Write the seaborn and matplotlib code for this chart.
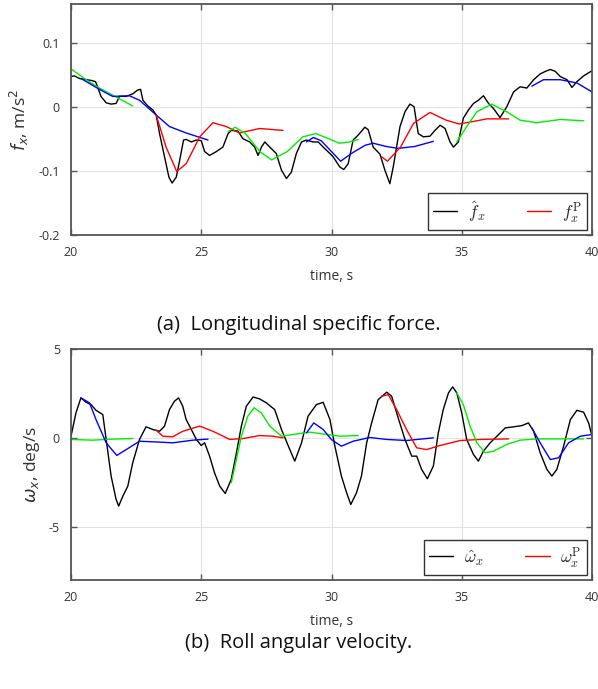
import numpy as np
import pandas as pd
import matplotlib
matplotlib.use("Agg")
import matplotlib.pyplot as plt
import seaborn as sns
from matplotlib.lines import Line2D
from matplotlib.font_manager import FontProperties

# ---- data ----
# (a) longitudinal specific force, m/s^2
fx_t = [20.0, 20.13, 20.32, 20.58, 20.77, 20.94, 21.03, 21.15, 21.35, 21.54, 21.73, 21.86,
        22.12, 22.37, 22.56, 22.67, 22.76, 22.95, 23.14, 23.27, 23.40, 23.59, 23.76, 23.88,
        24.04, 24.17, 24.32, 24.42, 24.62, 24.81, 25.0, 25.13, 25.32, 25.58, 25.83, 26.03,
        26.15, 26.41, 26.6, 26.86, 27.05, 27.18, 27.31, 27.44, 27.63, 27.88, 28.08, 28.27,
        28.46, 28.65, 28.85, 29.04, 29.29, 29.49, 29.68, 29.94, 30.06, 30.32, 30.47, 30.64,
        30.83, 31.03, 31.28, 31.41, 31.6, 31.86, 32.05, 32.24, 32.37, 32.63, 32.82, 33.01,
        33.17, 33.33, 33.53, 33.78, 33.97, 34.17, 34.36, 34.55, 34.68, 34.87, 35.06, 35.26,
        35.45, 35.64, 35.83, 36.03, 36.22, 36.47, 36.73, 36.99, 37.24, 37.5, 37.76, 38.01,
        38.21, 38.4, 38.59, 38.78, 39.04, 39.23, 39.42, 39.68, 40.0]
fx_meas = [0.047, 0.048, 0.044, 0.042, 0.041, 0.039, 0.030, 0.016, 0.006, 0.004, 0.005, 0.016,
           0.016, 0.020, 0.026, 0.027, 0.010, 0.001, -0.005, -0.013, -0.042, -0.078, -0.110, -0.119,
           -0.110, -0.084, -0.052, -0.051, -0.055, -0.052, -0.053, -0.070, -0.076, -0.070, -0.063, -0.042,
           -0.037, -0.038, -0.050, -0.055, -0.063, -0.076, -0.063, -0.055, -0.063, -0.073, -0.099, -0.112,
           -0.102, -0.073, -0.055, -0.052, -0.055, -0.055, -0.063, -0.073, -0.078, -0.094, -0.098, -0.089,
           -0.052, -0.044, -0.032, -0.036, -0.063, -0.074, -0.099, -0.120, -0.094, -0.031, -0.008, 0.004,
           0.0, -0.042, -0.047, -0.046, -0.037, -0.029, -0.034, -0.055, -0.063, -0.055, -0.018, -0.005,
           0.005, 0.010, 0.017, 0.005, -0.003, -0.017, 0.0, 0.023, 0.031, 0.029, 0.042, 0.051,
           0.055, 0.058, 0.055, 0.047, 0.042, 0.030, 0.039, 0.048, 0.056]

# prediction segments (time, value, colour)
fx_pred = [
    ([20.0, 20.58, 21.09, 21.6, 22.37], [0.059, 0.042, 0.029, 0.018, 0.001], "g"),
    ([20.38, 21.09, 21.6, 22.24, 22.63, 23.27, 23.78, 24.42, 25.26],
     [0.044, 0.027, 0.016, 0.017, 0.010, -0.013, -0.031, -0.041, -0.052], "b"),
    ([23.27, 23.65, 24.06, 24.42, 24.94, 25.45, 25.96, 26.47, 27.24, 28.14],
     [-0.013, -0.063, -0.101, -0.089, -0.047, -0.025, -0.031, -0.041, -0.034, -0.037], "r"),
    ([26.03, 26.3, 26.7, 27.25, 27.7, 28.3, 28.9, 29.4, 29.9, 30.3, 30.7, 31.03],
     [-0.039, -0.032, -0.042, -0.070, -0.083, -0.070, -0.047, -0.042, -0.050, -0.057, -0.055, -0.051], "g"),
    ([29.04, 29.3, 29.6, 30.0, 30.35, 30.8, 31.3, 31.6, 32.1, 32.55, 33.2, 33.91],
     [-0.055, -0.048, -0.053, -0.070, -0.085, -0.072, -0.060, -0.057, -0.062, -0.065, -0.062, -0.054], "b"),
    ([31.92, 32.15, 32.65, 33.15, 33.78, 34.4, 34.9, 35.45, 35.97, 36.8],
     [-0.078, -0.085, -0.063, -0.026, -0.009, -0.021, -0.027, -0.023, -0.019, -0.019], "r"),
    ([34.81, 35.19, 35.58, 36.15, 36.73, 37.24, 37.88, 38.78, 39.68],
     [-0.055, -0.031, -0.008, 0.004, -0.008, -0.021, -0.025, -0.020, -0.022], "g"),
    ([37.69, 38.14, 38.78, 39.42, 40.0], [0.032, 0.042, 0.042, 0.037, 0.023], "b"),
]

# (b) roll angular velocity, deg/s
wx_t = [20.0, 20.19, 20.38, 20.58, 20.77, 20.96, 21.22, 21.35, 21.54, 21.73, 21.83, 21.99,
        22.18, 22.37, 22.63, 22.88, 23.14, 23.40, 23.59, 23.78, 23.97, 24.13, 24.29, 24.42,
        24.62, 24.81, 25.0, 25.13, 25.32, 25.51, 25.71, 25.92, 26.15, 26.35, 26.54, 26.73,
        26.99, 27.24, 27.5, 27.82, 28.08, 28.4, 28.59, 28.85, 29.1, 29.42, 29.68, 29.94,
        30.13, 30.38, 30.58, 30.74, 30.96, 31.15, 31.35, 31.54, 31.79, 32.12, 32.31, 32.56,
        32.82, 33.08, 33.27, 33.46, 33.68, 33.91, 34.1, 34.29, 34.49, 34.65, 34.81, 35.0,
        35.19, 35.45, 35.64, 35.83, 36.09, 36.35, 36.67, 36.99, 37.31, 37.56, 37.76, 38.01,
        38.27, 38.46, 38.65, 38.91, 39.17, 39.42, 39.68, 39.87, 40.0]
wx_meas = [0.09, 1.4, 2.25, 2.0, 1.87, 1.55, 1.31, -0.09, -2.15, -3.46, -3.84, -3.28,
           -2.72, -1.40, -0.09, 0.62, 0.47, 0.37, 0.66, 1.59, 2.06, 2.25, 1.78, 1.03,
           0.47, -0.09, -0.43, -0.28, -1.03, -1.97, -2.72, -3.13, -2.34, -0.84, 0.66, 1.78,
           2.30, 2.19, 1.97, 1.59, 0.47, -0.66, -1.31, -0.28, 1.22, 1.87, 2.0, 1.03,
           -0.47, -2.15, -3.09, -3.75, -3.09, -2.15, -0.28, 0.84, 2.15, 2.57, 2.34, 1.12,
           -0.09, -1.03, -1.03, -1.78, -2.30, -1.59, 0.28, 1.59, 2.53, 2.87, 2.53, 1.40,
           -0.09, -0.94, -1.31, -0.75, -0.28, 0.09, 0.56, 0.62, 0.69, 0.84, 0.37, -0.84,
           -1.78, -2.15, -1.78, -0.47, 1.03, 1.55, 1.44, 0.84, 0.09]

wx_pred = [
    ([20.0, 20.83, 21.6, 22.37], [-0.09, -0.13, -0.07, -0.04], "g"),
    ([20.38, 20.71, 20.96, 21.35, 21.76, 22.12, 22.63, 23.4, 23.91, 24.68, 25.26],
     [2.25, 1.97, 1.03, -0.28, -0.99, -0.66, -0.19, -0.24, -0.28, -0.13, -0.07], "b"),
    ([23.27, 23.53, 23.91, 24.29, 24.94, 25.45, 26.09, 26.6, 27.24, 27.76, 28.14],
     [0.43, 0.09, 0.06, 0.37, 0.66, 0.37, -0.09, -0.04, 0.13, 0.09, 0.0], "r"),
    ([26.15, 26.35, 26.54, 26.79, 27.03, 27.31, 27.63, 28.08, 28.53, 29.17, 29.81, 30.32, 31.03],
     [-2.53, -1.22, 0.09, 1.22, 1.69, 1.40, 0.66, 0.09, 0.19, 0.32, 0.19, 0.09, 0.13], "g"),
    ([29.04, 29.32, 29.68, 30.0, 30.38, 30.83, 31.47, 32.12, 32.88, 33.91],
     [0.28, 0.84, 0.47, -0.1, -0.47, -0.19, 0.02, -0.09, -0.15, 0.0], "b"),
    ([31.92, 32.18, 32.5, 32.88, 33.27, 33.65, 34.17, 34.94, 35.71, 36.8],
     [2.34, 2.43, 1.59, 0.47, -0.56, -0.66, -0.43, -0.15, -0.09, -0.06], "r"),
    ([34.81, 35.06, 35.32, 35.58, 35.9, 36.22, 36.73, 37.24, 37.88, 39.68],
     [2.53, 1.87, 0.66, -0.28, -0.84, -0.75, -0.37, -0.13, -0.06, -0.06], "g"),
    ([37.69, 38.01, 38.4, 38.72, 39.1, 39.55, 40.0], [0.56, -0.28, -1.22, -1.12, -0.28, 0.09, 0.19], "b"),
]

x_ticks = [20, 25, 30, 35, 40]
fx_ticks = [-0.2, -0.1, 0, 0.1]
fx_ticklabels = ["-0.2", "-0.1", "0", "0.1"]
wx_ticks = [-5, 0, 5]
wx_ticklabels = ["-5", "0", "5"]

pred_colors = {"r": "#ff0000", "g": "#00ee00", "b": "#0000ff"}

sns.set_theme(style="whitegrid")
plt.rcParams["font.family"] = ["Open Sans", "DejaVu Sans"]

fig = plt.figure(figsize=(5.98, 6.89), dpi=100)
ax1 = fig.add_axes([71 / 598, 1 - 235 / 689, 521 / 598, 231 / 689])
ax2 = fig.add_axes([71 / 598, 1 - 580 / 689, 521 / 598, 231 / 689])


def draw_panel(ax, t, meas, preds, ylim, yticks, yticklabels, ylabel, leg_labels):
    df = pd.DataFrame({"t": t, "v": meas})
    sns.lineplot(data=df, x="t", y="v", ax=ax, color="black", lw=1.0,
                 sort=False, estimator=None, legend=False)
    for seg_t, seg_v, c in preds:
        sns.lineplot(x=seg_t, y=seg_v, ax=ax, color=pred_colors[c], lw=1.0,
                     sort=False, estimator=None, legend=False)
    ax.set_xlim(20, 40)
    ax.set_ylim(*ylim)
    ax.set_xticks(x_ticks)
    ax.set_xticklabels([str(v) for v in x_ticks])
    ax.set_yticks(yticks)
    ax.set_yticklabels(yticklabels)
    ax.grid(True, color="#e2e2e2", lw=0.8)
    ax.tick_params(direction="in", length=4, width=1, colors="#555555",
                   labelcolor="#333333", labelsize=9, top=True, right=True,
                   left=True, bottom=True, pad=8)
    ax.tick_params(axis="y", pad=8)
    for sp in ax.spines.values():
        sp.set_color("#555555")
        sp.set_linewidth(1.3)
    ax.set_xlabel("time, s", fontsize=10, color="#333333", labelpad=7)
    ax.set_ylabel(ylabel, fontsize=12.5, color="#333333", labelpad=5)
    handles = [Line2D([], [], color="black", lw=1.0),
               Line2D([], [], color="#ff0000", lw=1.0)]
    leg = ax.legend(handles, leg_labels, loc="lower right", ncol=2, frameon=True,
                    fancybox=False, framealpha=1, edgecolor="#333333",
                    prop=FontProperties(size=12.5, math_fontfamily="cm"),
                    borderaxespad=0.3, handlelength=1.4, handletextpad=0.6,
                    columnspacing=2.4, borderpad=0.3)
    leg.get_frame().set_linewidth(1.0)


draw_panel(ax1, fx_t, fx_meas, fx_pred, (-0.2, 0.16), fx_ticks, fx_ticklabels,
           "$f_x$, m/s$^2$", [r"$\hat{f}_x$", r"$f_x^{\mathrm{P}}$"])
draw_panel(ax2, wx_t, wx_meas, wx_pred, (-8, 5), wx_ticks, wx_ticklabels,
           r"$\omega_x$, deg/s", [r"$\hat{\omega}_x$", r"$\omega_x^{\mathrm{P}}$"])

fig.text(0.5, 1 - 325 / 689, "(a)  Longitudinal specific force.", ha="center",
         va="center", fontsize=14.5, color="#111111")
fig.text(0.5, 1 - 643 / 689, "(b)  Roll angular velocity.", ha="center",
         va="center", fontsize=14.5, color="#111111")

fig.savefig("out.png", dpi=100)
